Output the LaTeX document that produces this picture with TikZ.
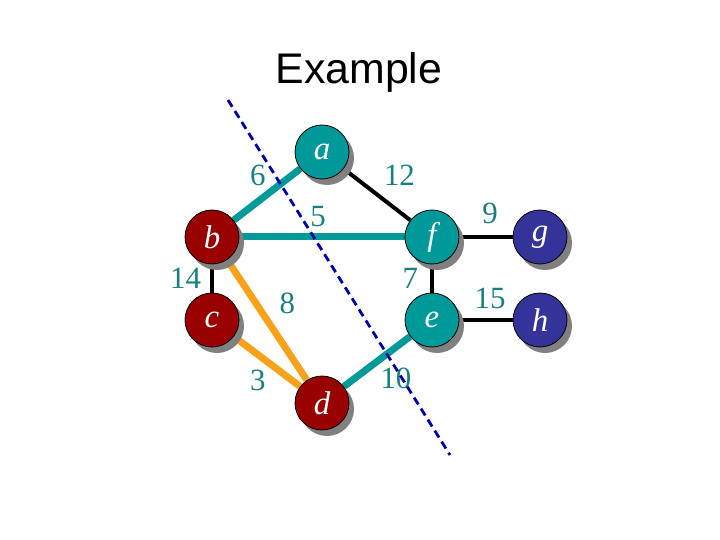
\documentclass[tikz,border=0pt]{standalone}
\usepackage{fontspec}
\setmainfont{Liberation Serif}
\newfontfamily\titlefont{Liberation Sans}
\usetikzlibrary{shadows,backgrounds,positioning}
\definecolor{teal}{HTML}{009999}
\definecolor{tealink}{HTML}{1A7F7F}
\definecolor{wine}{HTML}{990000}
\definecolor{navy}{HTML}{333399}
\definecolor{amber}{HTML}{F7A21B}
\definecolor{cutblue}{HTML}{0000AA}

\begin{document}
\begin{tikzpicture}[x=1bp,y=-1bp,
  vtx/.style={circle,draw=black,line width=0.8bp,minimum size=54bp,inner sep=0pt,
    text=white,font=\fontsize{33}{38}\selectfont\itshape,
    drop shadow={shadow xshift=5bp,shadow yshift=-6bp,fill=black!50,opacity=1}},
  wt/.style={text=tealink,font=\fontsize{31}{36}\selectfont,inner sep=3bp},
  tree/.style={teal,line width=7bp},
  path2/.style={amber,line width=7bp},
  plain/.style={black,line width=4bp}]
\useasboundingbox (0,0) rectangle (720,540);
\node[anchor=base,font=\titlefont\fontsize{43}{50}\selectfont] (title) at (359,84) {Example};
% vertices
\node[vtx,fill=teal] (a) at (322,152) {a};
\node[vtx,fill=wine] (b) at (212,237) {b};
\node[vtx,fill=wine] (c) at (212,320) {c};
\node[vtx,fill=wine] (d) at (322,403) {d};
\node[vtx,fill=teal] (e) at (432,320) {e};
\node[vtx,fill=teal] (f) at (432,237) {f};
\node[vtx,fill=navy] (g) at (540,237) {g};
\node[vtx,fill=navy] (h) at (540,320) {h};
% edges
\begin{scope}[on background layer]
\draw[tree] (a) -- node[wt,above left=2bp and -5bp] (w6) {6} (b);
\draw[plain] (a) -- node[wt,above right=4bp and 2bp] (w12) {12} (f);
\draw[tree] (b) -- node[wt,above=4bp,xshift=-4bp] (w5) {5} (f);
\draw[plain] (f) -- node[wt,above=8bp,xshift=4bp] (w9) {9} (g);
\draw[plain] (b) -- node[wt,left=6bp] (w14) {14} (c);
\draw[plain] (f) -- node[wt,left=9bp] (w7) {7} (e);
\draw[path2] (b) -- node[wt,above right=0bp and 6bp] (w8) {8} (d);
\draw[plain] (e) -- node[wt,above=6bp,xshift=4bp] (w15) {15} (h);
\draw[path2] (c) -- node[wt,below left=2bp and -5bp] (w3) {3} (d);
\draw[tree] (d) -- node[wt,below right=0bp and -3bp] (w10) {10} (e);
\end{scope}
% cut
\coordinate (cuttop) at (228,100);
\coordinate (cutbot) at (450,455);
\draw[cutblue,line width=2.8bp,dash pattern=on 8bp off 5bp] (cuttop) -- (cutbot);
\end{tikzpicture}
\end{document}
